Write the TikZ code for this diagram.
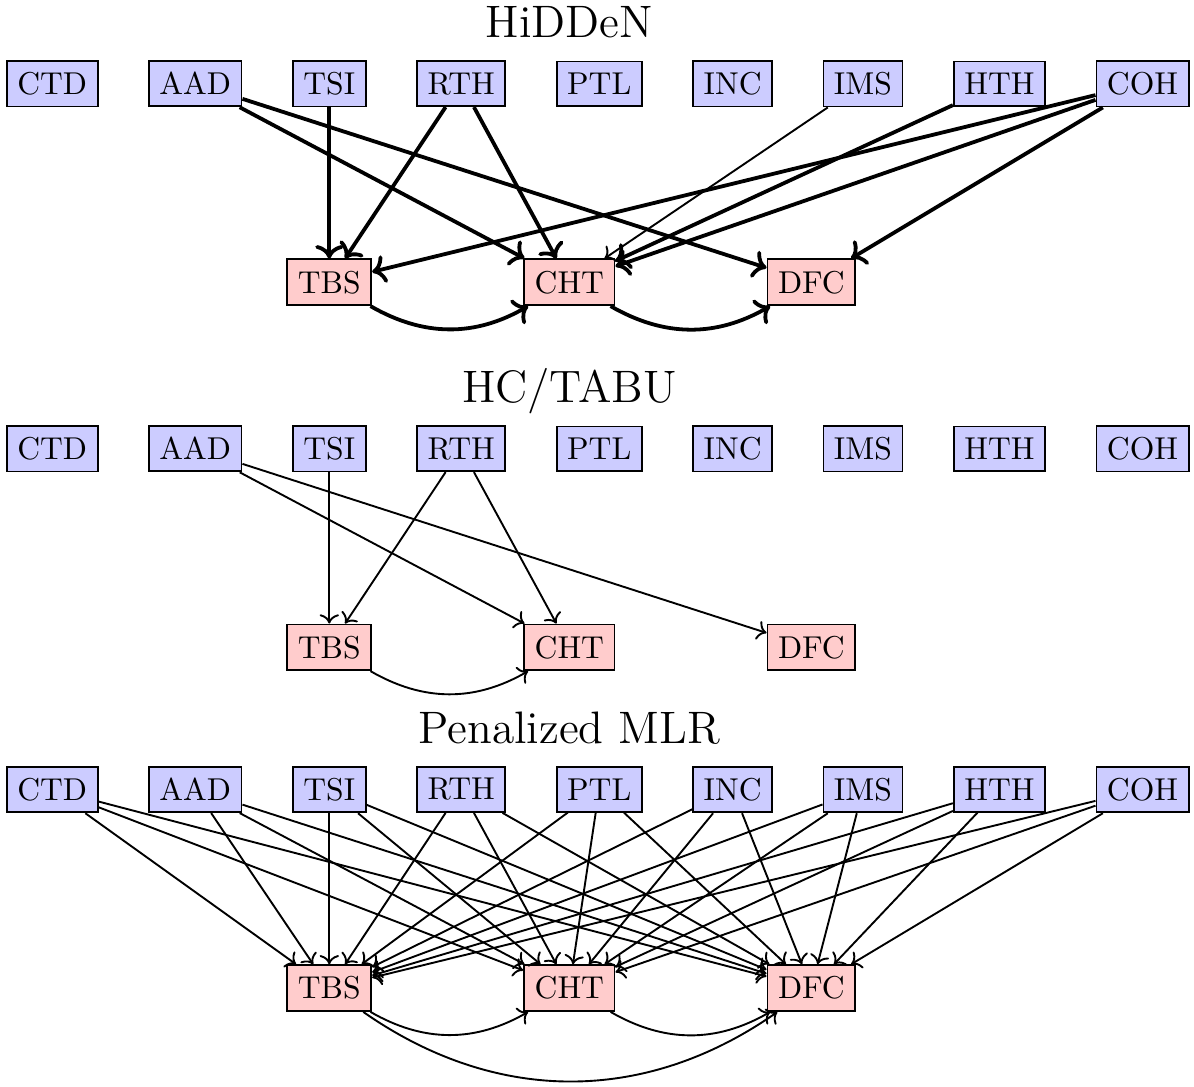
\documentclass[tikz,border=0pt]{standalone}
\usepackage{tikz}
\usetikzlibrary{positioning,arrows.meta,calc}

\begin{document}
\begin{tikzpicture}[
  var/.style={draw,semithick,fill=blue!20,inner ysep=3.6pt},
  target/.style={draw,semithick,fill=red!20,inner ysep=3.6pt},
  title/.style={font=\Large,anchor=base},
  arr/.style={->,semithick},
  strong/.style={->,very thick}
]
  \useasboundingbox (0,0) rectangle (13.28,-12.08);

  % HiDDeN
  \node[var] (ctd1) at (0.58,-0.93) {CTD};
  \node[var,right=5.5mm of ctd1] (aad1) {AAD};
  \node[var,right=5.5mm of aad1] (tsi1) {TSI};
  \node[var,right=5.5mm of tsi1] (rth1) {RTH};
  \node[var,right=5.5mm of rth1] (ptl1) {PTL};
  \node[var,right=5.5mm of ptl1] (inc1) {INC};
  \node[var,right=5.5mm of inc1] (ims1) {IMS};
  \node[var,right=5.5mm of ims1] (hth1) {HTH};
  \node[var,right=5.5mm of hth1] (coh1) {COH};
  \node[target,below=1.68cm of tsi1] (tbs1) {TBS};
  \node[target,right=1.68cm of tbs1] (cht1) {CHT};
  \node[target,right=1.68cm of cht1] (dfc1) {DFC};
  \node[title] (t1) at ($(ctd1.north -| cht1)+(0,7pt)$) {HiDDeN};
  \draw[strong] (aad1)--(cht1); \draw[strong] (aad1)--(dfc1);
  \draw[strong] (tsi1)--(tbs1);
  \draw[strong] (rth1)--(tbs1); \draw[strong] (rth1)--(cht1);
  \draw[arr] (ims1)--(cht1);
  \draw[strong] (hth1)--(cht1);
  \draw[strong] (coh1)--(tbs1); \draw[strong] (coh1)--(cht1); \draw[strong] (coh1)--(dfc1);
  \draw[strong] (tbs1) to[bend right] (cht1);
  \draw[strong] (cht1) to[bend right] (dfc1);

  % HC/TABU
  \node[var] (ctd2) at (0.58,-4.99) {CTD};
  \node[var,right=5.5mm of ctd2] (aad2) {AAD};
  \node[var,right=5.5mm of aad2] (tsi2) {TSI};
  \node[var,right=5.5mm of tsi2] (rth2) {RTH};
  \node[var,right=5.5mm of rth2] (ptl2) {PTL};
  \node[var,right=5.5mm of ptl2] (inc2) {INC};
  \node[var,right=5.5mm of inc2] (ims2) {IMS};
  \node[var,right=5.5mm of ims2] (hth2) {HTH};
  \node[var,right=5.5mm of hth2] (coh2) {COH};
  \node[target,below=1.68cm of tsi2] (tbs2) {TBS};
  \node[target,right=1.68cm of tbs2] (cht2) {CHT};
  \node[target,right=1.68cm of cht2] (dfc2) {DFC};
  \node[title] (t2) at ($(ctd2.north -| cht2)+(0,7pt)$) {HC/TABU};
  \draw[arr] (aad2)--(cht2); \draw[arr] (aad2)--(dfc2);
  \draw[arr] (tsi2)--(tbs2);
  \draw[arr] (rth2)--(tbs2); \draw[arr] (rth2)--(cht2);
  \draw[arr] (tbs2) to[bend right] (cht2);

  % Penalized MLR: every input points to every target
  \node[var] (ctd3) at (0.58,-8.78) {CTD};
  \node[var,right=5.5mm of ctd3] (aad3) {AAD};
  \node[var,right=5.5mm of aad3] (tsi3) {TSI};
  \node[var,right=5.5mm of tsi3] (rth3) {RTH};
  \node[var,right=5.5mm of rth3] (ptl3) {PTL};
  \node[var,right=5.5mm of ptl3] (inc3) {INC};
  \node[var,right=5.5mm of inc3] (ims3) {IMS};
  \node[var,right=5.5mm of ims3] (hth3) {HTH};
  \node[var,right=5.5mm of hth3] (coh3) {COH};
  \node[target,below=1.68cm of tsi3] (tbs3) {TBS};
  \node[target,right=1.68cm of tbs3] (cht3) {CHT};
  \node[target,right=1.68cm of cht3] (dfc3) {DFC};
  \node[title] (t3) at ($(ctd3.north -| cht3)+(0,7pt)$) {Penalized MLR};
  \foreach \s in {ctd3,aad3,tsi3,rth3,ptl3,inc3,ims3,hth3,coh3}
    \foreach \t in {tbs3,cht3,dfc3}
      \draw[arr] (\s)--(\t);
  \draw[arr] (tbs3) to[bend right] (cht3);
  \draw[arr] (cht3) to[bend right] (dfc3);
  \draw[arr] (tbs3) to[bend right=35] (dfc3);
\end{tikzpicture}
\end{document}
